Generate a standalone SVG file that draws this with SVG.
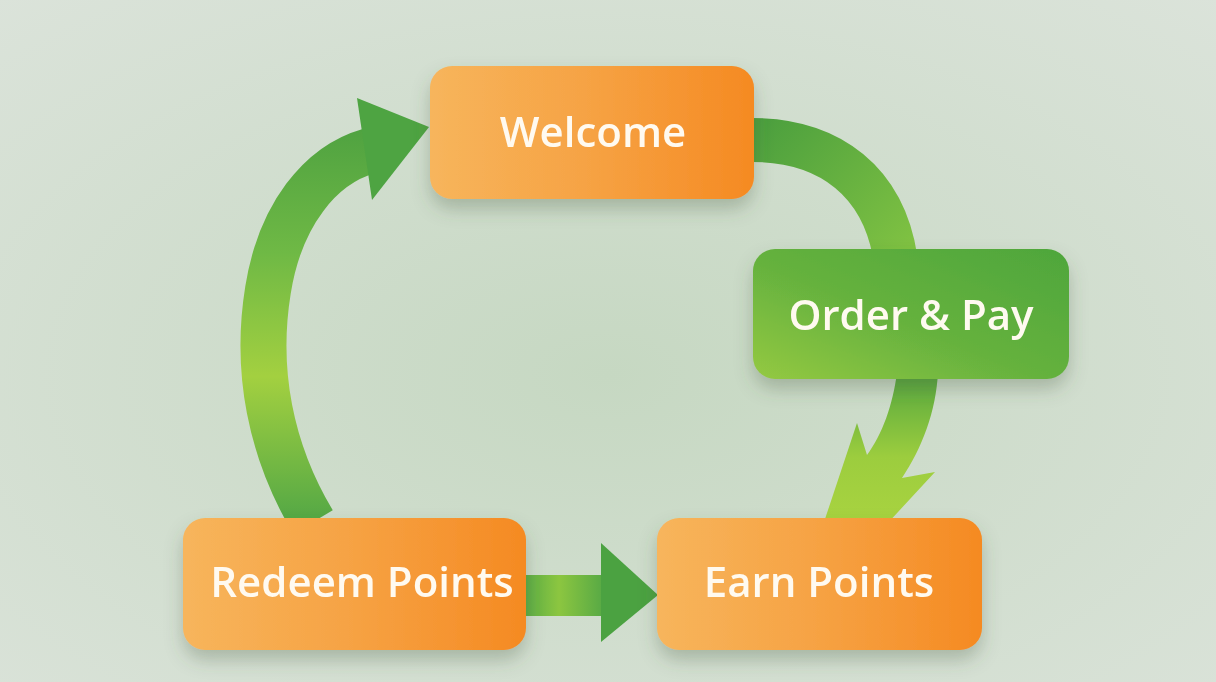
<svg xmlns="http://www.w3.org/2000/svg" width="1216" height="682" viewBox="0 0 1216 682">
<defs>
<radialGradient id="bg" cx="0.5" cy="0.55" r="0.75">
<stop offset="0" stop-color="#c6d8c2"/>
<stop offset="1" stop-color="#dbe3da"/>
</radialGradient>
<linearGradient id="orange" x1="0" y1="0" x2="1" y2="0">
<stop offset="0" stop-color="#f7b55c"/>
<stop offset="0.5" stop-color="#f6a243"/>
<stop offset="1" stop-color="#f58a22"/>
</linearGradient>
<linearGradient id="greenBox" x1="0" y1="1" x2="1" y2="0">
<stop offset="0" stop-color="#94c942"/>
<stop offset="0.45" stop-color="#66b23e"/>
<stop offset="1" stop-color="#4ea63b"/>
</linearGradient>
<linearGradient id="leftArc" gradientUnits="userSpaceOnUse" x1="0" y1="110" x2="0" y2="520">
<stop offset="0" stop-color="#4b9f40"/>
<stop offset="0.35" stop-color="#6fb945"/>
<stop offset="0.65" stop-color="#a3d040"/>
<stop offset="1" stop-color="#54a845"/>
</linearGradient>
<linearGradient id="rightArc" gradientUnits="userSpaceOnUse" x1="760" y1="120" x2="900" y2="260">
<stop offset="0" stop-color="#4b9f3e"/>
<stop offset="1" stop-color="#80c242"/>
</linearGradient>
<linearGradient id="downArc" gradientUnits="userSpaceOnUse" x1="0" y1="380" x2="0" y2="520">
<stop offset="0" stop-color="#5aaa3e"/>
<stop offset="0.55" stop-color="#9ccd3e"/>
<stop offset="1" stop-color="#a8d340"/>
</linearGradient>
<linearGradient id="bottomArrow" gradientUnits="userSpaceOnUse" x1="526" y1="0" x2="658" y2="0">
<stop offset="0" stop-color="#5cae45"/>
<stop offset="0.25" stop-color="#8cc640"/>
<stop offset="0.6" stop-color="#55a845"/>
<stop offset="1" stop-color="#459c40"/>
</linearGradient>
<filter id="shadow" x="-20%" y="-20%" width="140%" height="160%">
<feDropShadow dx="0" dy="10" stdDeviation="9" flood-color="#4a5a40" flood-opacity="0.3"/>
</filter>
</defs>
<style>
.label{font-family:"Open Sans","Liberation Sans",sans-serif;font-size:42px;font-weight:600;fill:#fffaf0;text-anchor:middle}
</style>
<rect x="0" y="0" width="1216" height="682" fill="url(#bg)"/>
<g id="connectors">
<path d="M313,522 C 270,450 255,370 268,290 C 280,215 320,165 369,151" fill="none" stroke="url(#leftArc)" stroke-width="46"/>
<polygon points="357,98 429,127 372,200" fill="#4ea442"/>
<path d="M752,140 C 830,140 885,182 896,262" fill="none" stroke="url(#rightArc)" stroke-width="44"/>
<path d="M897,372 C 893,405 882,435 867,455 L 857,423 L 823,525 L 886,525 L 935,472 L 902,478 C 922,448 936,412 938,372 Z" fill="url(#downArc)"/>
<rect x="520" y="575" width="85" height="41" fill="url(#bottomArrow)"/>
<polygon points="601,543 658,595 601,642" fill="#4ba241"/>
</g>
<g id="welcome" filter="url(#shadow)">
<rect x="430" y="66" width="324" height="133" rx="22" fill="url(#orange)"/>
<text class="label" x="593" y="147">Welcome</text>
</g>
<g id="order-pay" filter="url(#shadow)">
<rect x="753" y="249" width="316" height="130" rx="22" fill="url(#greenBox)"/>
<text class="label" x="911" y="330">Order &amp; Pay</text>
</g>
<g id="redeem-points" filter="url(#shadow)">
<rect x="183" y="518" width="343" height="132" rx="22" fill="url(#orange)"/>
<text class="label" x="362" y="597">Redeem Points</text>
</g>
<g id="earn-points" filter="url(#shadow)">
<rect x="657" y="518" width="325" height="132" rx="22" fill="url(#orange)"/>
<text class="label" x="819" y="597">Earn Points</text>
</g>
</svg>
